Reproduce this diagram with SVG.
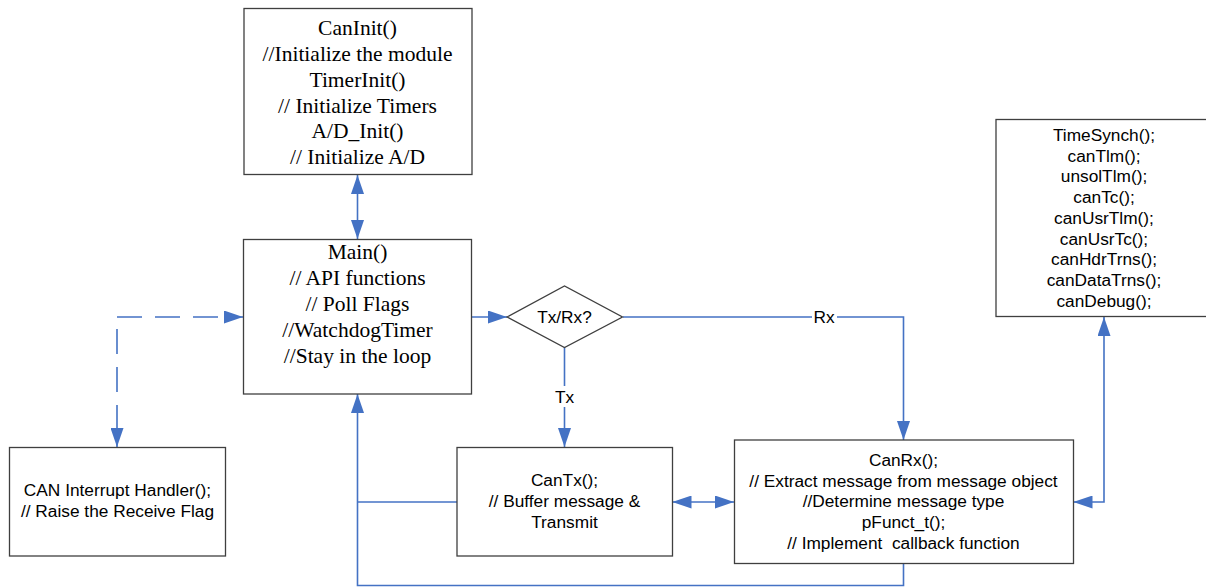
<svg xmlns="http://www.w3.org/2000/svg" width="1206" height="587" viewBox="0 0 1206 587">
<style>
.box{fill:#fff;stroke:#3f3f3f;stroke-width:1.3}
.serif{font-family:"Liberation Serif","Times New Roman",serif;font-size:21.5px;text-anchor:middle;fill:#000}
.sans{font-family:"Liberation Sans",Arial,sans-serif;font-size:17.3px;text-anchor:middle;fill:#000}
.conn{fill:none;stroke:#4472C4;stroke-width:1.6}
.dash{stroke-dasharray:25 13}
.lbl{fill:#fff}
</style>
<defs>
<marker id="arr" markerUnits="userSpaceOnUse" markerWidth="19" markerHeight="13" refX="19" refY="6.5" orient="auto-start-reverse">
<path d="M0,0 L19,6.5 L0,13 z" fill="#4472C4"/>
</marker>
</defs>
<rect width="1206" height="587" fill="#fff"/>
<g id="connectors">
<path class="conn" d="M357.5,175 V239" marker-start="url(#arr)" marker-end="url(#arr)"/>
<path class="conn" d="M472,317 H507" marker-end="url(#arr)"/>
<path class="conn" d="M564.5,347 V447" marker-end="url(#arr)"/>
<path class="conn" d="M623,317 H903.5 V440" marker-end="url(#arr)"/>
<path class="conn" d="M672.5,502 H734" marker-start="url(#arr)" marker-end="url(#arr)"/>
<path class="conn" d="M1073.5,502 H1104 V317" marker-start="url(#arr)" marker-end="url(#arr)"/>
<path class="conn" d="M903.5,563.5 V585.5 H357.5 V394" marker-end="url(#arr)"/>
<path class="conn" d="M457,502 H357.5"/>
<path class="conn dash" d="M117,317 H243" marker-end="url(#arr)"/>
<path class="conn dash" stroke-dashoffset="26" d="M117,317 V447" marker-end="url(#arr)"/>
<rect class="lbl" x="552" y="386" width="25" height="21"/>
<text class="sans" x="564.5" y="403">Tx</text>
<rect class="lbl" x="812" y="307" width="25" height="20"/>
<text class="sans" x="824" y="323">Rx</text>
</g>
<g id="caninit">
<rect class="box" x="244" y="8.5" width="228" height="166"/>
<text class="serif" x="357.5" y="35">CanInit()</text>
<text class="serif" x="357.5" y="61">//Initialize the module</text>
<text class="serif" x="357.5" y="87">TimerInit()</text>
<text class="serif" x="357.5" y="112.5">// Initialize Timers</text>
<text class="serif" x="357.5" y="138">A/D_Init()</text>
<text class="serif" x="357.5" y="164">// Initialize A/D</text>
</g>
<g id="main">
<rect class="box" x="243.5" y="239.5" width="228" height="154.5"/>
<text class="serif" x="357.5" y="259">Main()</text>
<text class="serif" x="357.5" y="285">// API functions</text>
<text class="serif" x="357.5" y="311">// Poll Flags</text>
<text class="serif" x="357.5" y="337">//WatchdogTimer</text>
<text class="serif" x="357.5" y="363">//Stay in the loop</text>
</g>
<g id="decision">
<polygon class="box" points="507,317 564.5,286 622.5,317 564.5,347.5"/>
<text class="sans" x="564.5" y="323">Tx/Rx?</text>
</g>
<g id="timesynch">
<rect class="box" x="996" y="119.5" width="216" height="197"/>
<text class="sans" x="1104" y="141">TimeSynch();</text>
<text class="sans" x="1104" y="161.7">canTlm();</text>
<text class="sans" x="1104" y="182.4">unsolTlm();</text>
<text class="sans" x="1104" y="203.1">canTc();</text>
<text class="sans" x="1104" y="223.8">canUsrTlm();</text>
<text class="sans" x="1104" y="244.5">canUsrTc();</text>
<text class="sans" x="1104" y="265.2">canHdrTrns();</text>
<text class="sans" x="1104" y="285.9">canDataTrns();</text>
<text class="sans" x="1104" y="306.6">canDebug();</text>
</g>
<g id="interrupt">
<rect class="box" x="9.5" y="447.5" width="216" height="108.5"/>
<text class="sans" x="117.5" y="496">CAN Interrupt Handler();</text>
<text class="sans" x="117.5" y="517">// Raise the Receive Flag</text>
</g>
<g id="cantx">
<rect class="box" x="457" y="447.5" width="215.5" height="108.5"/>
<text class="sans" x="564.5" y="486">CanTx();</text>
<text class="sans" x="564.5" y="507">// Buffer message &amp;</text>
<text class="sans" x="564.5" y="527.7">Transmit</text>
</g>
<g id="canrx">
<rect class="box" x="734.5" y="440" width="339" height="123.5"/>
<text class="sans" x="903.5" y="466">CanRx();</text>
<text class="sans" x="903.5" y="486.7">// Extract message from message object</text>
<text class="sans" x="903.5" y="507.4">//Determine message type</text>
<text class="sans" x="903.5" y="528.1">pFunct_t();</text>
<text class="sans" x="903.5" y="548.8" xml:space="preserve">// Implement  callback function</text>
</g>
</svg>
